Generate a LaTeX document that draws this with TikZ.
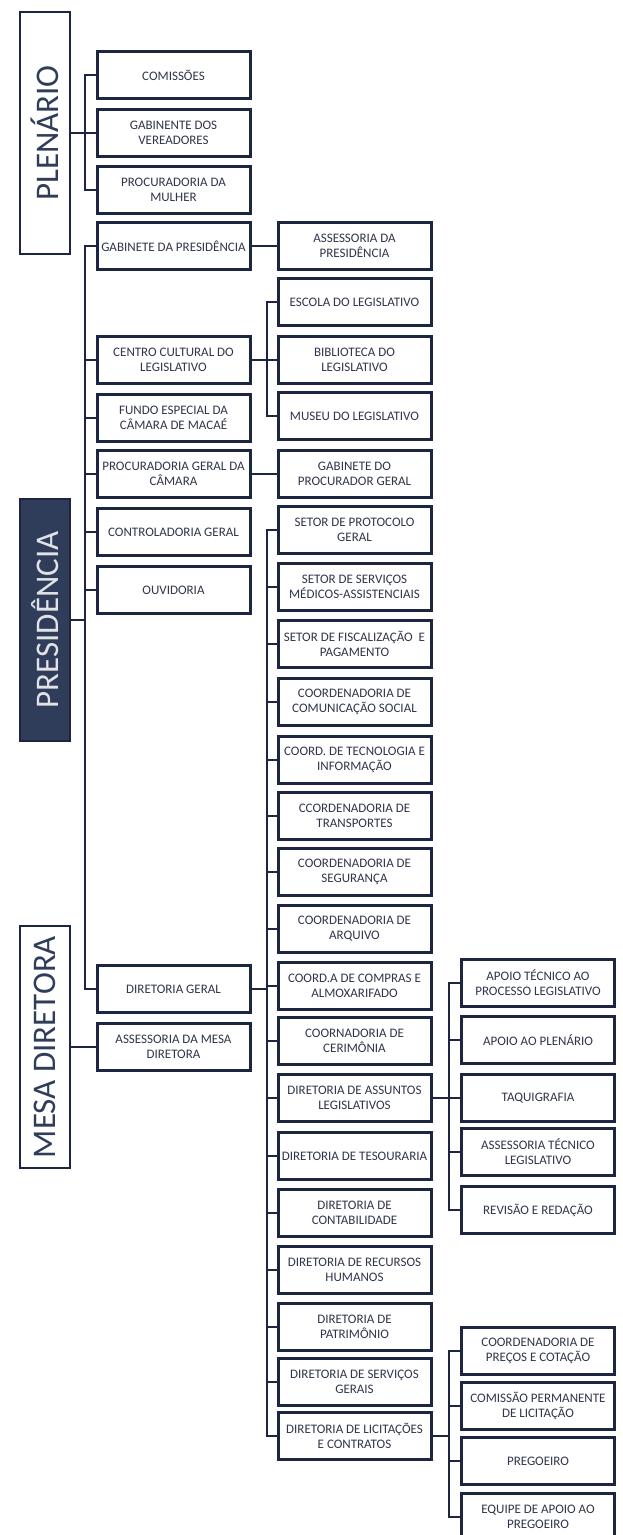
\documentclass[tikz,border=0pt]{standalone}
\usepackage{fontspec}
\setmainfont{Carlito}
\definecolor{navy}{HTML}{1C2640}
\definecolor{ink}{HTML}{30354A}
\definecolor{deep}{HTML}{2F3C5A}
\tikzset{
  unit/.style={draw=navy, line width=3pt, fill=white, text=ink,
    minimum width=153pt, minimum height=47pt, inner xsep=1pt,
    align=center, font=\fontsize{13}{15}\selectfont},
  title/.style={draw=navy, line width=2.8pt, rotate=90,
    minimum width=242pt, minimum height=50pt, text=deep,
    font=\fontsize{33}{36}\selectfont},
  link/.style={draw=navy, line width=2pt},
}
\begin{document}
\begin{tikzpicture}[x=1pt, y=-1pt]
        \useasboundingbox (0,0) rectangle (623,1535);

        % Column x positions
        \pgfmathsetmacro{\xa}{45}
        \pgfmathsetmacro{\xb}{173.5}
        \pgfmathsetmacro{\xc}{354.5}
        \pgfmathsetmacro{\xd}{538}

        % Titles on the left
        \node[title] (ple) at (\xa,133) {PLENÁRIO};
        \node[title, fill=deep, text=white!85!deep] (pre) at (\xa,620) {PRESIDÊNCIA};
        \node[title] (mes) at (\xa,1047) {MESA DIRETORA};

        % Plenario
        \node[unit] (com) at (\xb,75) {COMISSÕES};
        \node[unit] (gve) at (\xb,133) {GABINENTE DOS\\VEREADORES};
        \node[unit] (pmu) at (\xb,190) {PROCURADORIA DA\\MULHER};
        \draw[link] (ple.south) -- ++(14,0) coordinate (pbus);
        \foreach \n in {com,gve,pmu}
          \draw[link] (pbus) |- (\n.west);

        % Presidencia
        \node[unit] (gab) at (\xb,246) {GABINETE DA PRESIDÊNCIA};
        \node[unit] (cen) at (\xb,360) {CENTRO CULTURAL DO\\LEGISLATIVO};
        \node[unit] (fun) at (\xb,418) {FUNDO ESPECIAL DA\\CÂMARA DE MACAÉ};
        \node[unit] (pgc) at (\xb,474) {PROCURADORIA GERAL DA\\CÂMARA};
        \node[unit] (con) at (\xb,532) {CONTROLADORIA GERAL};
        \node[unit] (ouv) at (\xb,590) {OUVIDORIA};
        \node[unit] (dge) at (\xb,989) {DIRETORIA GERAL};
        \draw[link] (pre.south) -- ++(14,0) coordinate (prebus);
        \foreach \n in {gab,cen,fun,pgc,con,ouv,dge}
          \draw[link] (prebus) |- (\n.west);

        % Mesa Diretora
        \node[unit] (asm) at (\xb,1047) {ASSESSORIA DA MESA\\DIRETORA};
        \draw[link] (mes.south) -- (asm.west);

        % Second level
        \node[unit] (asp) at (\xc,246) {ASSESSORIA DA\\PRESIDÊNCIA};
        \draw[link] (gab.east) -- (asp.west);

        \node[unit] (esc) at (\xc,302) {ESCOLA DO LEGISLATIVO};
        \node[unit] (bib) at (\xc,360) {BIBLIOTECA DO\\LEGISLATIVO};
        \node[unit] (mus) at (\xc,416) {MUSEU DO LEGISLATIVO};
        \draw[link] (cen.east) -- ++(15,0) coordinate (cbus);
        \foreach \n in {esc,bib,mus}
          \draw[link] (cbus) |- (\n.west);

        \node[unit] (gpg) at (\xc,474) {GABINETE DO\\PROCURADOR GERAL};
        \draw[link] (pgc.east) -- (gpg.west);

        % Diretoria Geral
        \foreach \i/\y/\t in {
            1/530/{SETOR DE PROTOCOLO\\GERAL},
            2/587/{SETOR DE SERVIÇOS\\MÉDICOS-ASSISTENCIAIS},
            3/644/{SETOR DE FISCALIZAÇÃO~ E\\PAGAMENTO},
            4/702/{COORDENADORIA DE\\COMUNICAÇÃO SOCIAL},
            5/760/{COORD. DE TECNOLOGIA E\\INFORMAÇÃO},
            6/816/{CCORDENADORIA DE\\TRANSPORTES},
            7/872/{COORDENADORIA DE\\SEGURANÇA},
            8/929/{COORDENADORIA DE\\ARQUIVO},
            9/986/{COORD.A DE COMPRAS E\\ALMOXARIFADO},
            10/1041/{COORNADORIA DE\\CERIMÔNIA},
            11/1098/{DIRETORIA DE ASSUNTOS\\LEGISLATIVOS},
            12/1156/{DIRETORIA DE TESOURARIA},
            13/1213/{DIRETORIA DE\\CONTABILIDADE},
            14/1270/{DIRETORIA DE RECURSOS\\HUMANOS},
            15/1327/{DIRETORIA DE\\PATRIMÔNIO},
            16/1382/{DIRETORIA DE SERVIÇOS\\GERAIS},
            17/1436/{DIRETORIA DE LICITAÇÕES\\E CONTRATOS}}
          \node[unit] (d\i) at (\xc,\y) {\t};
        \draw[link] (dge.east) -- ++(15,0) coordinate (dbus);
        \foreach \i in {1,...,17}
          \draw[link] (dbus) |- (d\i.west);

        % Assuntos Legislativos
        \node[unit] (ale1) at (\xd,983) {APOIO TÉCNICO AO\\PROCESSO LEGISLATIVO};
        \node[unit] (ale2) at (\xd,1040) {APOIO AO PLENÁRIO};
        \node[unit] (ale3) at (\xd,1098) {TAQUIGRAFIA};
        \node[unit] (ale4) at (\xd,1152) {ASSESSORIA TÉCNICO\\LEGISLATIVO};
        \node[unit] (ale5) at (\xd,1210) {REVISÃO E REDAÇÃO};
        \draw[link] (d11.east) -- ++(16,0) coordinate (abus);
        \foreach \i in {1,...,5}
          \draw[link] (abus) |- (ale\i.west);

        % Licitacoes e Contratos
        \node[unit] (lic1) at (\xd,1351) {COORDENADORIA DE\\PREÇOS E COTAÇÃO};
        \node[unit] (lic2) at (\xd,1406) {COMISSÃO PERMANENTE\\DE LICITAÇÃO};
        \node[unit] (lic3) at (\xd,1461) {PREGOEIRO};
        \node[unit] (lic4) at (\xd,1517) {EQUIPE DE APOIO AO\\PREGOEIRO};
        \draw[link] (d17.east) -- ++(16,0) coordinate (lbus);
        \foreach \i in {1,...,4}
          \draw[link] (lbus) |- (lic\i.west);

\end{tikzpicture}
\end{document}
